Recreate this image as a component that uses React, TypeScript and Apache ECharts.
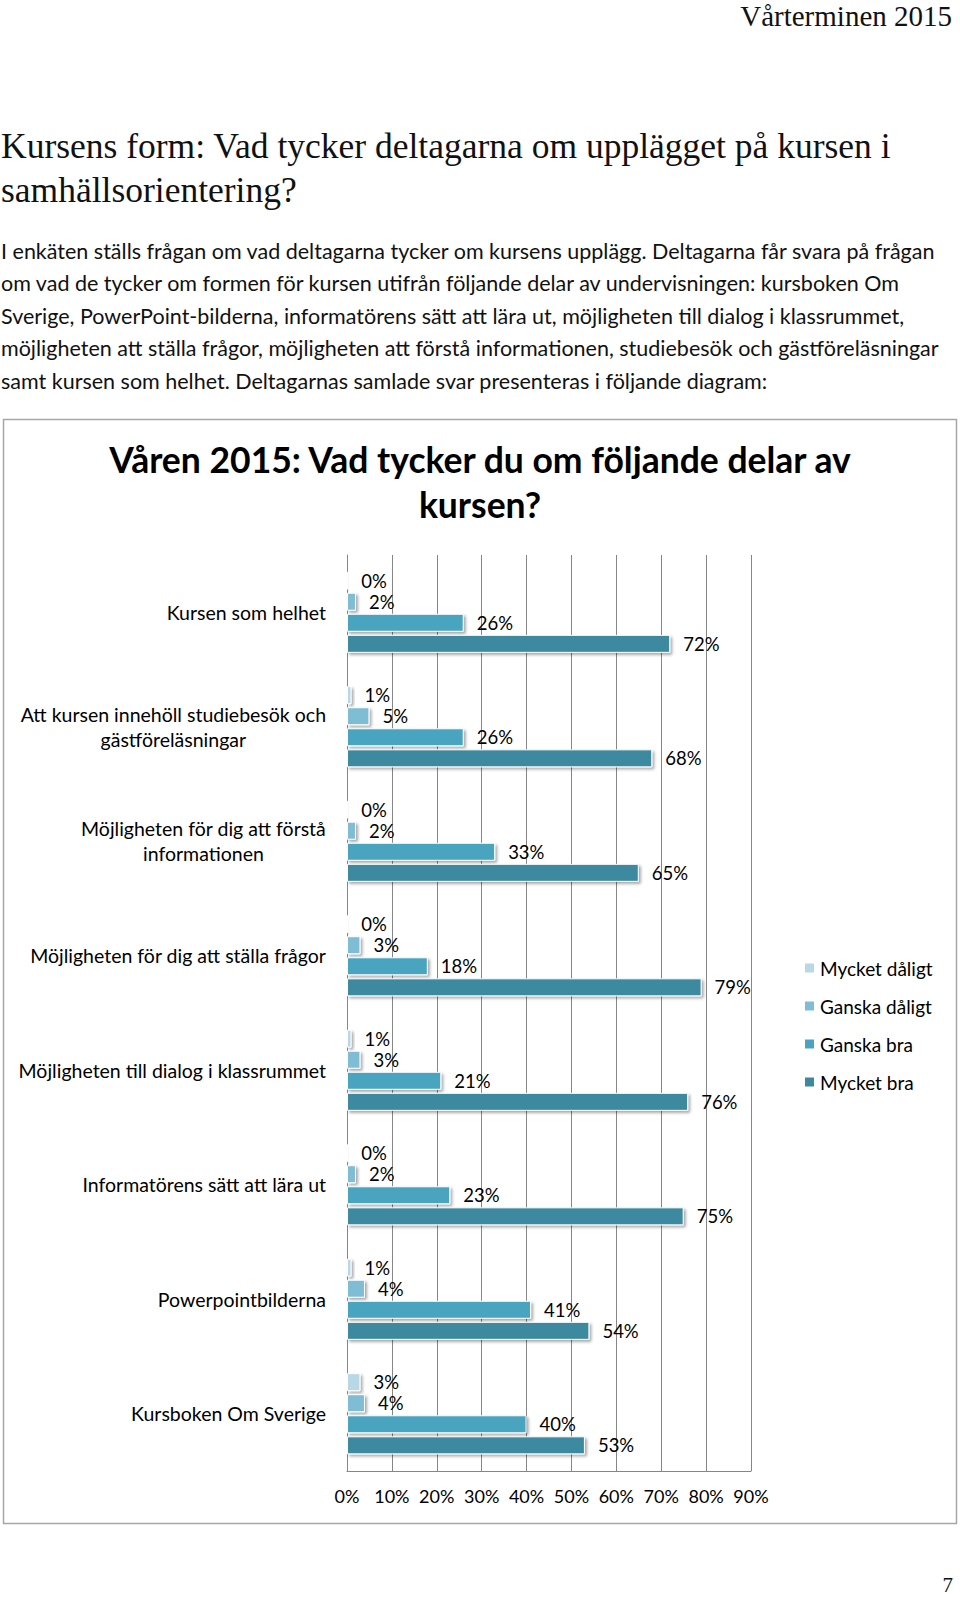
import React, { useEffect, useRef } from "react";
import * as echarts from "echarts";

const categories = [
  "Kursen som helhet",
  "Att kursen innehöll studiebesök och\ngästföreläsningar",
  "Möjligheten för dig att förstå\ninformationen",
  "Möjligheten för dig att ställa frågor",
  "Möjligheten till dialog i klassrummet",
  "Informatörens sätt att lära ut",
  "Powerpointbilderna",
  "Kursboken Om Sverige",
];

const seriesNames = ["Mycket dåligt", "Ganska dåligt", "Ganska bra", "Mycket bra"];
const mycketDaligt = [0.3, 1, 0.3, 0.3, 1, 0.3, 1, 3];
const ganskaDaligt = [2, 5, 2, 3, 3, 2, 4, 4];
const ganskaBra = [26, 26, 33, 18, 21, 23, 41, 40];
const mycketBra = [72, 68, 65, 79, 76, 75, 54, 53];
const seriesValues = [mycketDaligt, ganskaDaligt, ganskaBra, mycketBra];
const seriesColors = ["#b8d8e5", "#7fbdd4", "#4aa4c0", "#3c899f"];

const xTicks = [0, 10, 20, 30, 40, 50, 60, 70, 80, 90];

const headerText = "Vårterminen 2015";
const headingLines = [
  "Kursens form: Vad tycker deltagarna om upplägget på kursen i",
  "samhällsorientering?",
];
const paragraphLines = [
  "I enkäten ställs frågan om vad deltagarna tycker om kursens upplägg. Deltagarna får svara på frågan",
  "om vad de tycker om formen för kursen utifrån följande delar av undervisningen: kursboken Om",
  "Sverige, PowerPoint-bilderna, informatörens sätt att lära ut, möjligheten till dialog i klassrummet,",
  "möjligheten att ställa frågor, möjligheten att förstå informationen, studiebesök och gästföreläsningar",
  "samt kursen som helhet. Deltagarnas samlade svar presenteras i följande diagram:",
];
const chartTitleLines = ["Våren 2015: Vad tycker du om följande delar av", "kursen?"];
const pageNumber = "7";

const SANS = "Lato, 'Open Sans', sans-serif";
const SERIF = "'Liberation Serif', 'DejaVu Serif', serif";

export default function App() {
  const ref = useRef<HTMLDivElement>(null);
  useEffect(() => {
    if (!ref.current) return;
    const chart = echarts.init(ref.current, undefined, { renderer: "svg" });
    const paraY = [250.5, 283, 315.6, 348, 381];
    const graphic: any[] = [
      {
        type: "text",
        x: 952,
        y: 16,
        style: { text: headerText, font: `29px ${SERIF}`, fill: "#111", align: "right", verticalAlign: "middle" },
      },
      ...headingLines.map((t, i) => ({
        type: "text",
        x: 1,
        y: 146 + i * 44,
        style: { text: t, font: `35.5px ${SERIF}`, fill: "#111", align: "left", verticalAlign: "middle" },
      })),
      ...paragraphLines.map((t, i) => ({
        type: "text",
        x: 1,
        y: paraY[i],
        style: { text: t, font: `21.5px ${SANS}`, fill: "#111", align: "left", verticalAlign: "middle" },
      })),
      {
        type: "rect",
        shape: { x: 3.5, y: 419.5, width: 953, height: 1104 },
        style: { fill: "none", stroke: "#a6a6a6", lineWidth: 1.5 },
      },
      ...chartTitleLines.map((t, i) => ({
        type: "text",
        x: 480,
        y: 459 + i * 45,
        style: { text: t, font: `bold 35.5px ${SANS}`, fill: "#000", align: "center", verticalAlign: "middle" },
      })),
      {
        type: "text",
        x: 953,
        y: 1585,
        style: { text: pageNumber, font: `21px ${SERIF}`, fill: "#111", align: "right", verticalAlign: "middle" },
      },
    ];

    chart.setOption({
      animation: false,
      backgroundColor: "#fff",
      graphic,
      grid: { left: 347, right: 209, top: 555, bottom: 126, containLabel: false },
      legend: {
        orient: "vertical",
        left: 798,
        top: 953,
        itemWidth: 11,
        itemHeight: 11,
        itemGap: 18,
        icon: "rect",
        data: seriesNames,
        textStyle: { fontFamily: SANS, fontSize: 19, color: "#000", lineHeight: 20 },
      },
      xAxis: {
        type: "value",
        min: 0,
        max: 90,
        interval: 10,
        axisLine: { show: true, lineStyle: { color: "#868686", width: 1 } },
        axisTick: { show: false },
        splitLine: { show: true, lineStyle: { color: "#868686", width: 1 } },
        axisLabel: {
          formatter: (v: number) => (xTicks.includes(v) ? `${v}%` : ""),
          fontFamily: SANS,
          fontSize: 18,
          color: "#000",
          margin: 16,
        },
      },
      yAxis: {
        type: "category",
        inverse: true,
        data: categories,
        axisLine: { show: true, lineStyle: { color: "#868686", width: 1 } },
        axisTick: { show: false },
        axisLabel: {
          margin: 21,
          align: "right",
          fontFamily: SANS,
          fontSize: 19.5,
          color: "#000",
          formatter: (v: string) => v.split("\n").map((l) => `{a|${l}}`).join("\n"),
          rich: { a: { align: "center", fontFamily: SANS, fontSize: 19.5, color: "#000", lineHeight: 25 } },
        },
      },
      series: seriesNames.map((name, si) => ({
        name,
        type: "bar",
        data: seriesValues[si],
        barWidth: 18,
        barGap: "17%",
        itemStyle: {
          color: seriesColors[si],
          borderColor: "#ffffff",
          borderWidth: 1,
          shadowColor: "rgba(0,0,0,0.35)",
          shadowBlur: 3,
          shadowOffsetX: 2,
          shadowOffsetY: 2,
        },
        label: {
          show: true,
          position: "right",
          distance: 13,
          fontFamily: SANS,
          fontSize: 18.5,
          color: "#000",
          formatter: (p: any) => `${Math.round(p.value)}%`,
        },
      })),
    });
    return () => chart.dispose();
  }, []);
  return (
    <div
      ref={ref}
      style={{ position: "absolute", left: 0, top: 0, width: 960, height: 1597, background: "#fff" }}
    />
  );
}
